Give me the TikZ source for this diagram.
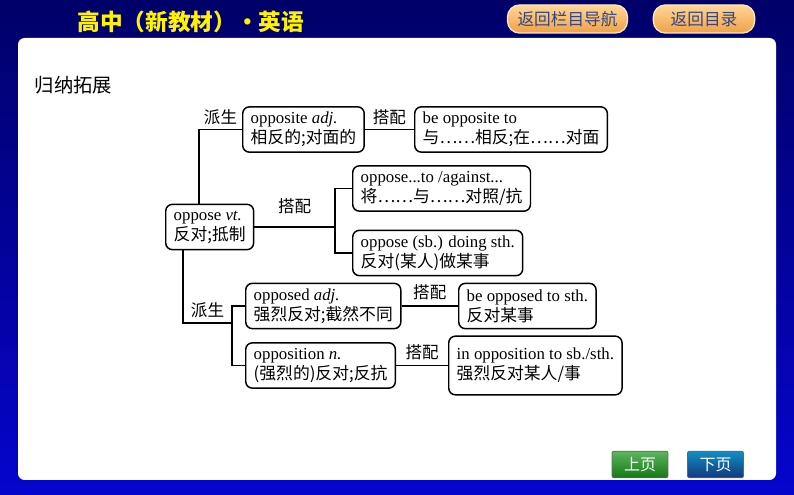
\documentclass[tikz,border=0pt]{standalone}
\usepackage{fontspec}
\setmainfont{Liberation Serif}
\newfontfamily\cjk{Noto Sans CJK SC}
\usepackage{tikz}

\definecolor{bgtop}{RGB}{0,0,105}
\definecolor{bgbot}{RGB}{5,5,205}
\definecolor{btntop}{RGB}{255,214,150}
\definecolor{btnbot}{RGB}{240,160,70}
\definecolor{btntext}{RGB}{50,70,130}
\definecolor{prevgreen}{RGB}{25,150,25}
\definecolor{nextblue}{RGB}{25,70,155}

\begin{document}
\begin{tikzpicture}[x=0.75pt, y=-0.75pt,
  box/.style={draw, line width=1.1pt, rounded corners=5pt, anchor=west, align=left, minimum height=34pt, font=\fontsize{12.6}{15}\selectfont, inner xsep=6pt, inner ysep=2pt},
  link/.style={line width=1.1pt},
  tag/.style={font=\cjk\fontsize{12.4}{14}\selectfont, inner sep=2pt},
  topbtn/.style={draw=btntop!60!white, line width=1pt, rounded corners=9pt, top color=btntop, bottom color=btnbot, text=btntext, font=\cjk\fontsize{12.5}{14}\selectfont, minimum height=21pt},
  pagebtn/.style={draw=black!60, line width=0.6pt, rounded corners=1.5pt, text=white, font=\cjk\fontsize{12}{14}\selectfont, minimum width=42pt, minimum height=20pt}
]
\useasboundingbox (0,0) rectangle (794,495);

% Background and panel
\shade[top color=bgtop, bottom color=bgbot] (0,0) rectangle (794,495);
\fill[white, rounded corners=5pt] (18,38) rectangle (776,480);

% Header
\node[text=yellow, font=\cjk\bfseries\fontsize{17}{20}\selectfont] (title) at (191,22) {高中（新教材）·英语};
\node[topbtn, minimum width=90pt] (navbtn) at (567.5,19) {返回栏目导航};
\node[topbtn, minimum width=76pt] (tocbtn) at (704,19) {返回目录};

% Footer buttons
\node[pagebtn, top color=prevgreen!70!white, bottom color=prevgreen!80!black] (prev) at (640,464.5) {上页};
\node[pagebtn, top color=nextblue!60!cyan, bottom color=nextblue!80!black] (next) at (715.5,464.5) {下页};

\node[anchor=west, font=\cjk\fontsize{14.5}{16}\selectfont] (heading) at (30,85) {归纳拓展};

% Boxes
\node[box] (opp) at (165,227) {oppose \textit{vt.}\\{\cjk 反对;抵制}};
\node[box] (opposite) at (242,129.5) {opposite \textit{adj.}\\{\cjk 相反的;对面的}};
\node[box] (beopp) at (414,129.5) {be opposite to\\{\cjk 与……相反;在……对面}};
\node[box] (oppto) at (352,188.5) {oppose...to /against...\\{\cjk 将……与……对照/抗}};
\node[box] (oppdoing) at (352,253) {oppose (sb.) doing sth.\\{\cjk 反对(某人)做某事}};
\node[box] (opposed) at (245,306) {opposed \textit{adj.}\\{\cjk 强烈反对;截然不同}};
\node[box] (beopposed) at (458,306) {be opposed to sth.\\{\cjk 反对某事}};
\node[box] (opposition) at (245,365.5) {opposition \textit{n.}\\{\cjk (强烈的)反对;反抗}};
\node[box, minimum height=44pt] (inopp) at (448,365.5) {in opposition to sb./sth.\\{\cjk 强烈反对某人/事}};

\coordinate (j1) at (335,227);
\coordinate (j2) at (232,323);

% Connections
\draw[link] ([xshift=25.5pt]opp.north west) |- node[tag, pos=0.75, above=1pt] {派生} (opposite.west);
\draw[link] (opposite.east) -- node[tag, above=1pt] {搭配} (beopp.west);

\draw[link] (opp.east) -- node[tag, above=7pt] {搭配} (j1);
\draw[link] (oppto.west) -| (j1) |- (oppdoing.west);

\draw[link] ([xshift=13.5pt]opp.south west) |- node[tag, pos=0.75, above=1pt] {派生} (j2);
\draw[link] (opposed.west) -| (j2) |- (opposition.west);

\draw[link] (opposed.east) -- node[tag, above=2pt] {搭配} (beopposed.west);
\draw[link] (opposition.east) -- node[tag, above=2pt] {搭配} (inopp.west);

\end{tikzpicture}
\end{document}
